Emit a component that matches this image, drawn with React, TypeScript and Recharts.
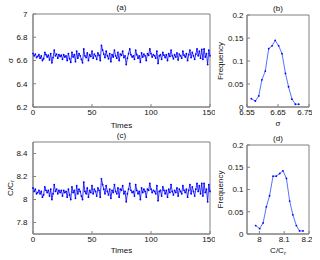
import React from 'react';
import { LineChart, Line, XAxis, YAxis, ReferenceArea } from 'recharts';

// ---- data ----
const sigmaSeries = [
  6.660, 6.640, 6.655, 6.625, 6.635, 6.650, 6.620, 6.640, 6.600, 6.615,
  6.670, 6.650, 6.630, 6.645, 6.605, 6.660, 6.580, 6.625, 6.690, 6.640,
  6.655, 6.620, 6.650, 6.635, 6.645, 6.610, 6.650, 6.630, 6.640, 6.600,
  6.660, 6.615, 6.585, 6.670, 6.630, 6.650, 6.590, 6.680, 6.620, 6.660,
  6.640, 6.610, 6.580, 6.700, 6.640, 6.625, 6.665, 6.600, 6.650, 6.635,
  6.680, 6.620, 6.655, 6.640, 6.610, 6.665, 6.645, 6.600, 6.730, 6.690,
  6.655, 6.625, 6.680, 6.640, 6.615, 6.660, 6.590, 6.650, 6.630, 6.690,
  6.640, 6.620, 6.670, 6.600, 6.655, 6.645, 6.680, 6.625, 6.640, 6.565,
  6.620, 6.660, 6.700, 6.650, 6.630, 6.640, 6.610, 6.690, 6.650, 6.620,
  6.640, 6.585, 6.665, 6.630, 6.655, 6.640, 6.600, 6.660, 6.645, 6.700,
  6.660, 6.630, 6.650, 6.640, 6.620, 6.680, 6.575, 6.640, 6.650, 6.610,
  6.670, 6.645, 6.625, 6.650, 6.600, 6.660, 6.635, 6.690, 6.640, 6.615,
  6.650, 6.630, 6.665, 6.605, 6.655, 6.640, 6.620, 6.680, 6.645, 6.630,
  6.660, 6.600, 6.650, 6.690, 6.625, 6.670, 6.640, 6.610, 6.655, 6.700,
  6.640, 6.680, 6.620, 6.695, 6.610, 6.700, 6.630, 6.660, 6.565, 6.690,
  6.640,
];

const ratioSeries = [
  8.10, 8.07, 8.09, 8.05, 8.06, 8.08, 8.05, 8.07, 8.02, 8.04,
  8.11, 8.08, 8.06, 8.08, 8.03, 8.09, 8.00, 8.05, 8.13, 8.07,
  8.09, 8.05, 8.08, 8.06, 8.08, 8.03, 8.08, 8.06, 8.07, 8.02,
  8.09, 8.04, 8.00, 8.11, 8.06, 8.08, 8.01, 8.12, 8.05, 8.09,
  8.07, 8.03, 8.00, 8.15, 8.07, 8.05, 8.10, 8.02, 8.08, 8.06,
  8.12, 8.05, 8.09, 8.07, 8.03, 8.10, 8.08, 8.02, 8.18, 8.13,
  8.09, 8.05, 8.12, 8.07, 8.04, 8.09, 8.01, 8.08, 8.06, 8.13,
  8.07, 8.05, 8.10, 8.02, 8.09, 8.08, 8.12, 8.05, 8.07, 7.98,
  8.05, 8.09, 8.14, 8.08, 8.06, 8.07, 8.03, 8.13, 8.08, 8.05,
  8.07, 8.00, 8.10, 8.06, 8.09, 8.07, 8.02, 8.09, 8.08, 8.14,
  8.09, 8.06, 8.08, 8.07, 8.05, 8.12, 7.99, 8.07, 8.08, 8.03,
  8.11, 8.08, 8.05, 8.08, 8.02, 8.09, 8.06, 8.13, 8.07, 8.04,
  8.08, 8.06, 8.10, 8.03, 8.09, 8.07, 8.05, 8.12, 8.08, 8.06,
  8.09, 8.02, 8.08, 8.13, 8.05, 8.11, 8.07, 8.03, 8.09, 8.14,
  8.07, 8.12, 8.05, 8.14, 8.03, 8.14, 8.06, 8.09, 7.98, 8.13,
  8.07,
];

const sigmaBins = [6.564, 6.577, 6.588, 6.598, 6.609, 6.62, 6.631, 6.641, 6.652, 6.663, 6.674, 6.684, 6.695, 6.706, 6.717];
const sigmaFreq = [0.018, 0.013, 0.024, 0.059, 0.078, 0.127, 0.133, 0.145, 0.133, 0.116, 0.073, 0.044, 0.017, 0.006, 0.006];

const ratioBins = [7.985, 8.001, 8.015, 8.028, 8.041, 8.055, 8.068, 8.082, 8.095, 8.109, 8.122, 8.135, 8.149, 8.162, 8.176];
const ratioFreq = [0.019, 0.012, 0.025, 0.061, 0.086, 0.13, 0.13, 0.136, 0.142, 0.125, 0.074, 0.043, 0.019, 0.007, 0.007];

const timeTicks = [0, 50, 100, 150];
const sigmaTicks = [6.2, 6.4, 6.6, 6.8, 7];
const ratioTicks = [7.8, 8, 8.2, 8.4];
const freqTicks = [0, 0.05, 0.1, 0.15, 0.2];
const sigmaBinTicks = [6.55, 6.65, 6.75];
const ratioBinTicks = [8, 8.1, 8.2];

const sigmaData = sigmaSeries.map((v, i) => ({ t: i, v }));
const ratioData = ratioSeries.map((v, i) => ({ t: i, v }));
const sigmaHist = sigmaBins.map((b, i) => ({ b, f: sigmaFreq[i] }));
const ratioHist = ratioBins.map((b, i) => ({ b, f: ratioFreq[i] }));

// ---- styles ----
const FONT = '"Liberation Sans", Arial, Helvetica, sans-serif';
const BLUE = '#0000ff';
const AXIS = '#808080';
const tickStyle = { fontSize: 8, fill: '#111', fontFamily: FONT };

const yLabel = (content: React.ReactNode, cx: number) => (props: any) => {
  const vb = props.viewBox || { y: 0, height: 0 };
  const cy = vb.y + vb.height / 2;
  return (
    <text
      x={cx}
      y={cy}
      transform={`rotate(-90 ${cx} ${cy})`}
      textAnchor="middle"
      dominantBaseline="central"
      fontSize={8}
      fontFamily={FONT}
      fill="#111"
    >
      {content}
    </text>
  );
};

const xLabel = (content: React.ReactNode, baseline: number) => (props: any) => {
  const vb = props.viewBox || { x: 0, width: 0 };
  return (
    <text
      x={vb.x + vb.width / 2}
      y={baseline}
      textAnchor="middle"
      fontSize={8}
      fontFamily={FONT}
      fill="#111"
    >
      {content}
    </text>
  );
};

const crLabel = (
  <>
    C/C<tspan dy={2} fontSize={6}>r</tspan>
  </>
);

const titleLabel = (t: string) => ({
  value: t,
  position: 'top' as const,
  offset: 4,
  fontSize: 8,
  fill: '#111',
  fontFamily: FONT,
});

export default function App() {
  return (
    <div style={{ position: 'absolute', left: 0, top: 0, width: 320, height: 260, background: '#fff', fontFamily: FONT }}>
      {/* (a) */}
      <div style={{ position: 'absolute', left: 0, top: 0 }}>
        <LineChart width={215} height={130} data={sigmaData} margin={{ top: 14, right: 5, left: 8, bottom: 0 }}>
          <XAxis dataKey="t" type="number" domain={[0, 150]} ticks={timeTicks} height={23}
            tick={tickStyle} tickSize={-3} tickMargin={5.5} stroke={AXIS}
            label={{ content: xLabel('Times', 127.5) }} />
          <YAxis type="number" domain={[6.2, 7]} ticks={sigmaTicks} width={25}
            tick={tickStyle} tickSize={-3} tickMargin={8.5} stroke={AXIS}
            label={{ content: yLabel('σ', 10) }} />
          <ReferenceArea x1={0} x2={150} y1={6.2} y2={7} fill="none" stroke={AXIS} strokeWidth={1} label={titleLabel('(a)')} />
          <Line dataKey="v" stroke={BLUE} strokeWidth={0.8} dot={{ r: 0.9, fill: BLUE, stroke: 'none' }} isAnimationActive={false} />
        </LineChart>
      </div>
      {/* (b) */}
      <div style={{ position: 'absolute', left: 212, top: 0 }}>
        <LineChart width={100} height={130} data={sigmaHist} margin={{ top: 15, right: 3, left: 5, bottom: 0 }}>
          <XAxis dataKey="b" type="number" domain={[6.55, 6.75]} ticks={sigmaBinTicks} height={23}
            tick={tickStyle} tickSize={-3} tickMargin={5.5} stroke={AXIS}
            label={{ content: xLabel('σ', 126) }} />
          <YAxis type="number" domain={[0, 0.2]} ticks={freqTicks} width={30}
            tick={tickStyle} tickSize={-3} tickMargin={6.5} stroke={AXIS}
            label={{ content: yLabel('Frequency', 8) }} />
          <ReferenceArea x1={6.55} x2={6.75} y1={0} y2={0.2} fill="none" stroke={AXIS} strokeWidth={1} label={titleLabel('(b)')} />
          <Line dataKey="f" stroke="#2a4dff" strokeWidth={0.8} dot={{ r: 0.9, fill: BLUE, stroke: 'none' }} isAnimationActive={false} />
        </LineChart>
      </div>
      {/* (c) */}
      <div style={{ position: 'absolute', left: 0, top: 130 }}>
        <LineChart width={215} height={130} data={ratioData} margin={{ top: 12, right: 5, left: 8, bottom: 0 }}>
          <XAxis dataKey="t" type="number" domain={[0, 150]} ticks={timeTicks} height={26}
            tick={tickStyle} tickSize={-3} tickMargin={5.5} stroke={AXIS}
            label={{ content: xLabel('Times', 122.5) }} />
          <YAxis type="number" domain={[7.7, 8.5]} ticks={ratioTicks} width={25}
            tick={tickStyle} tickSize={-3} tickMargin={8.5} stroke={AXIS}
            label={{ content: yLabel(crLabel, 10) }} />
          <ReferenceArea x1={0} x2={150} y1={7.7} y2={8.5} fill="none" stroke={AXIS} strokeWidth={1} label={titleLabel('(c)')} />
          <Line dataKey="v" stroke={BLUE} strokeWidth={0.8} dot={{ r: 0.9, fill: BLUE, stroke: 'none' }} isAnimationActive={false} />
        </LineChart>
      </div>
      {/* (d) */}
      <div style={{ position: 'absolute', left: 212, top: 130 }}>
        <LineChart width={100} height={130} data={ratioHist} margin={{ top: 15, right: 3, left: 5, bottom: 0 }}>
          <XAxis dataKey="b" type="number" domain={[7.95, 8.2]} ticks={ratioBinTicks} height={26}
            tick={tickStyle} tickSize={-3} tickMargin={5.5} stroke={AXIS}
            label={{ content: xLabel(crLabel, 123) }} />
          <YAxis type="number" domain={[0, 0.2]} ticks={freqTicks} width={30}
            tick={tickStyle} tickSize={-3} tickMargin={6.5} stroke={AXIS}
            label={{ content: yLabel('Frequency', 8) }} />
          <ReferenceArea x1={7.95} x2={8.2} y1={0} y2={0.2} fill="none" stroke={AXIS} strokeWidth={1} label={titleLabel('(d)')} />
          <Line dataKey="f" stroke="#2a4dff" strokeWidth={0.8} dot={{ r: 0.9, fill: BLUE, stroke: 'none' }} isAnimationActive={false} />
        </LineChart>
      </div>
    </div>
  );
}
